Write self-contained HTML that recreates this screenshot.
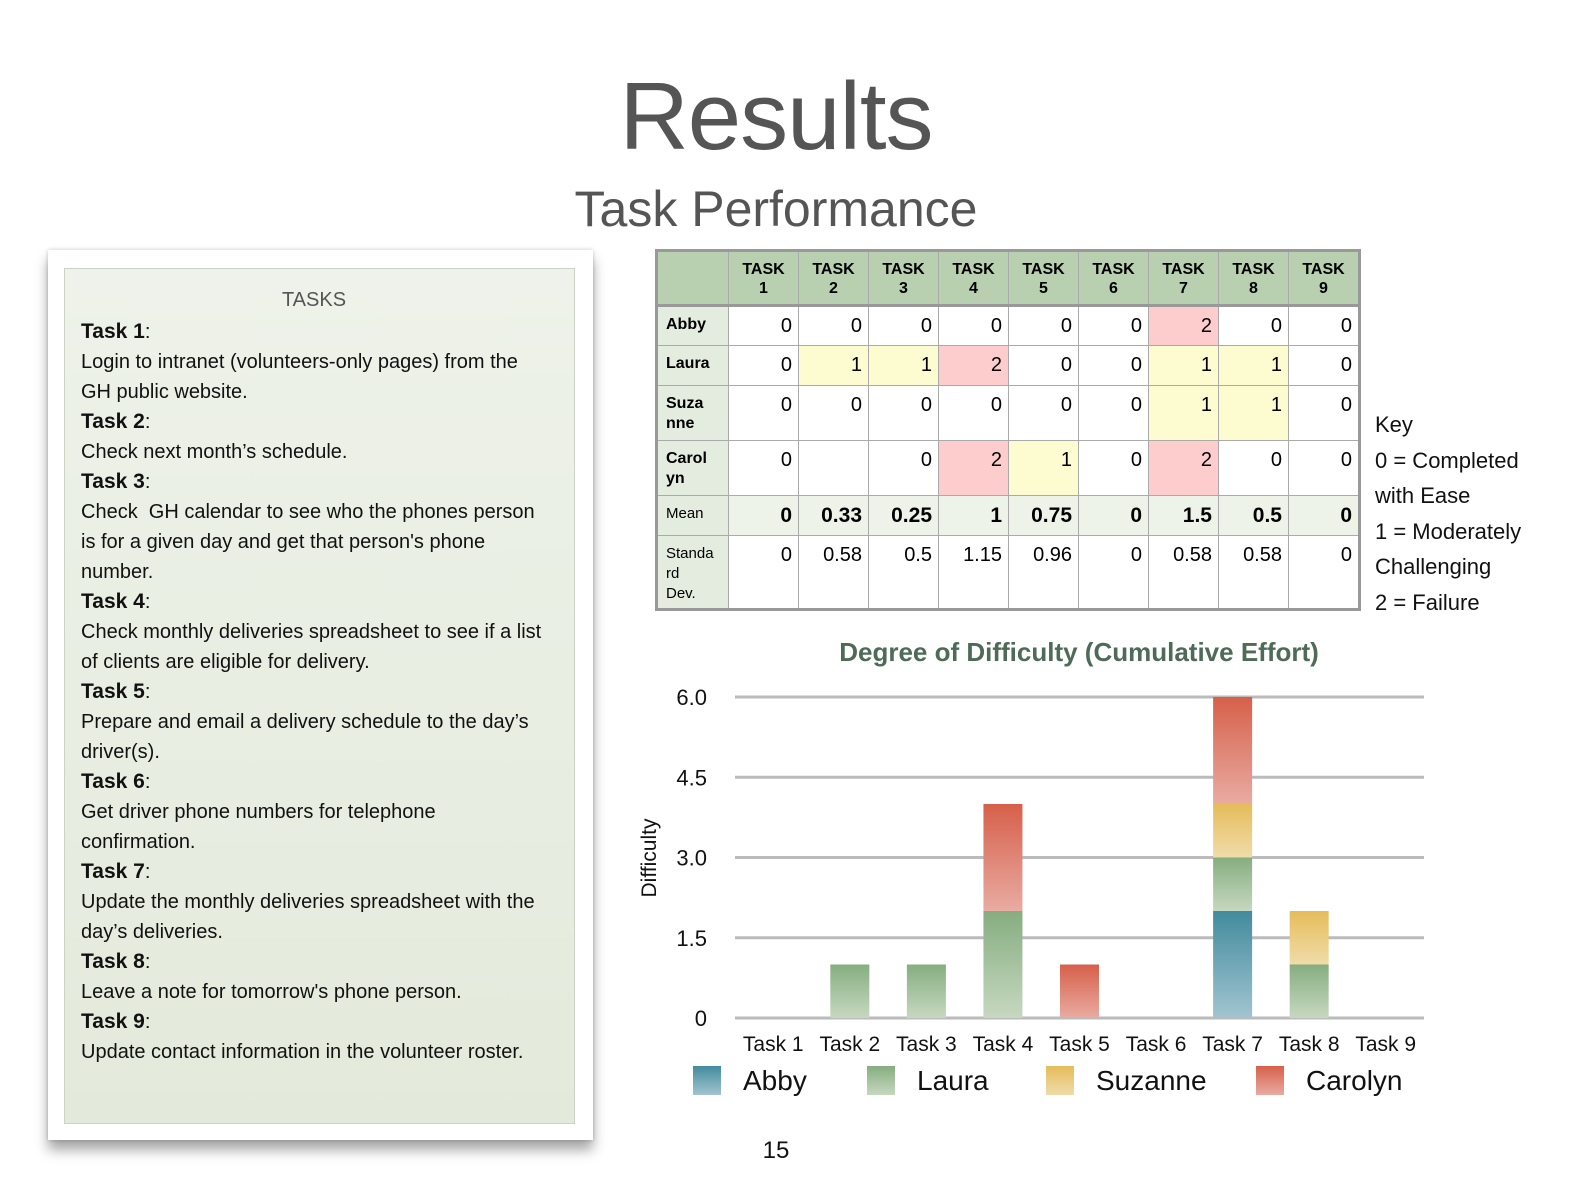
<!DOCTYPE html>
<html><head><meta charset="utf-8"><style>
body{margin:0;width:1586px;height:1194px;background:#fff;font-family:"Liberation Sans",sans-serif;position:relative;overflow:hidden}
.abs{position:absolute}
#title{left:0;width:1552px;top:62px;text-align:center;font-size:96px;color:#555;letter-spacing:-1px}
#sub{left:0;width:1552px;top:180px;text-align:center;font-size:50px;color:#555}
#card{left:48px;top:250px;width:545px;height:890px;background:#fff;box-shadow:0 10px 12px rgba(0,0,0,.35),0 0 4px rgba(0,0,0,.2)}
#inner{left:16px;top:18px;width:511px;height:856px;border:1px solid #ccd3c6;background:linear-gradient(#eef2ea,#e3eadb);box-sizing:border-box;padding:16px 27px 16px 16px;font-size:20px;color:#111;line-height:30px}
#inner b{font-size:21px}
table{border-collapse:collapse;position:absolute;left:655px;top:249px;border:3px solid #999;font-size:20px}
td{border:1px solid #aaa;text-align:right;padding:0 6px 0 0;vertical-align:top;width:63px}
td.h{background:#b8cfb0;text-align:center;font-weight:bold;font-size:16px;line-height:19px;padding:8px 0 0;vertical-align:top}
td.r{background:#e4ecdf;text-align:left;font-weight:bold;font-size:16px;line-height:20px;padding:8px 0 0 8px;width:62px}
tr.d td{padding-top:8px}
.y{background:#fdfbd0}.p{background:#fdcccc}
#key{left:1375px;top:407px;font-size:22px;line-height:35.5px;color:#111}
</style></head><body>
<div class="abs" id="title">Results</div>
<div class="abs" id="sub">Task Performance</div>
<div class="abs" id="card"><div class="abs" id="inner">
<div style="text-align:center;color:#555;font-size:20px;margin-bottom:2px">TASKS</div>
<b>Task 1</b>:<br>Login to intranet (volunteers-only pages) from the GH public website.<br>
<b>Task 2</b>:<br>Check next month’s schedule.<br>
<b>Task 3</b>:<br>Check &nbsp;GH calendar to see who the phones person is for a given day and get that person's phone number.<br>
<b>Task 4</b>:<br>Check monthly deliveries spreadsheet to see if a list of clients are eligible for delivery.<br>
<b>Task 5</b>:<br>Prepare and email a delivery schedule to the day’s driver(s).<br>
<b>Task 6</b>:<br>Get driver phone numbers for telephone confirmation.<br>
<b>Task 7</b>:<br>Update the monthly deliveries spreadsheet with the day’s deliveries.<br>
<b>Task 8</b>:<br>Leave a note for tomorrow's phone person.<br>
<b>Task 9</b>:<br>Update contact information in the volunteer roster.
</div></div>
<table>
<tr style="height:55px;border-bottom:3px solid #999"><td class="h" style="width:70px"></td><td class="h">TASK<br>1</td><td class="h">TASK<br>2</td><td class="h">TASK<br>3</td><td class="h">TASK<br>4</td><td class="h">TASK<br>5</td><td class="h">TASK<br>6</td><td class="h">TASK<br>7</td><td class="h">TASK<br>8</td><td class="h">TASK<br>9</td></tr>
<tr class="d" style="height:40px"><td class="r">Abby</td><td>0</td><td>0</td><td>0</td><td>0</td><td>0</td><td>0</td><td class="p">2</td><td>0</td><td>0</td></tr>
<tr class="d" style="height:40px"><td class="r">Laura</td><td>0</td><td class="y">1</td><td class="y">1</td><td class="p">2</td><td>0</td><td>0</td><td class="y">1</td><td class="y">1</td><td>0</td></tr>
<tr class="d" style="height:55px"><td class="r">Suza<br>nne</td><td>0</td><td>0</td><td>0</td><td>0</td><td>0</td><td>0</td><td class="y">1</td><td class="y">1</td><td>0</td></tr>
<tr class="d" style="height:55px"><td class="r">Carol<br>yn</td><td>0</td><td></td><td>0</td><td class="p">2</td><td class="y">1</td><td>0</td><td class="p">2</td><td>0</td><td>0</td></tr>
<tr class="d" style="height:40px;background:#eef3ea;font-weight:bold;font-size:21px"><td class="r" style="font-weight:normal;font-size:15px">Mean</td><td>0</td><td>0.33</td><td>0.25</td><td>1</td><td>0.75</td><td>0</td><td>1.5</td><td>0.5</td><td>0</td></tr>
<tr class="d" style="height:74px"><td class="r" style="font-weight:normal;font-size:15px">Standa<br>rd<br>Dev.</td><td>0</td><td>0.58</td><td>0.5</td><td>1.15</td><td>0.96</td><td>0</td><td>0.58</td><td>0.58</td><td>0</td></tr>
</table>
<div class="abs" id="key">Key<br>0 = Completed<br>with Ease<br>1 = Moderately<br>Challenging<br>2 = Failure</div>
<svg class="abs" style="left:0;top:0" width="1586" height="1194" id="chart">
<defs>
<linearGradient id="gA" x1="0" y1="0" x2="0" y2="1"><stop offset="0" stop-color="#428b9d"/><stop offset="1" stop-color="#a2c4d0"/></linearGradient>
<linearGradient id="gL" x1="0" y1="0" x2="0" y2="1"><stop offset="0" stop-color="#86ad80"/><stop offset="1" stop-color="#c6d8c0"/></linearGradient>
<linearGradient id="gS" x1="0" y1="0" x2="0" y2="1"><stop offset="0" stop-color="#e5bc5a"/><stop offset="1" stop-color="#f0dcaa"/></linearGradient>
<linearGradient id="gC" x1="0" y1="0" x2="0" y2="1"><stop offset="0" stop-color="#d6604a"/><stop offset="1" stop-color="#e9aba2"/></linearGradient>
</defs>
<text x="1079" y="661" text-anchor="middle" font-size="26" font-weight="bold" fill="#4e6b58">Degree of Difficulty (Cumulative Effort)</text>
<text transform="translate(656,858) rotate(-90)" text-anchor="middle" font-size="21" fill="#111">Difficulty</text>
<text x="776" y="1158" text-anchor="middle" font-size="24" fill="#111">15</text>
<g id="grid"></g><g id="bars"></g><g id="xl"></g><g id="leg"></g>
</svg>
<script>
const categories=["Task 1","Task 2","Task 3","Task 4","Task 5","Task 6","Task 7","Task 8","Task 9"];
const seriesNames=["Abby","Laura","Suzanne","Carolyn"];
const abby=[0,0,0,0,0,0,2,0,0];
const laura=[0,1,1,2,0,0,1,1,0];
const suzanne=[0,0,0,0,0,0,1,1,0];
const carolyn=[0,0,0,2,1,0,2,0,0];
const yTicks=[0,1.5,3,4.5,6];
const yTickLabels=["0","1.5","3.0","4.5","6.0"];
const NS="http://www.w3.org/2000/svg";
const x0=735,x1=1424,y0=1018,y1=697,ymax=6;
const bw=(x1-x0)/categories.length;
const ys=v=>y0-(v/ymax)*(y0-y1);
const xc=i=>x0+bw*(i+0.5);
function mk(t,a,p){const e=document.createElementNS(NS,t);for(const k in a)e.setAttribute(k,a[k]);p.appendChild(e);return e;}
const grid=document.getElementById('grid');
yTicks.forEach((v,i)=>{
 const l=mk('line',{x1:x0,x2:x1,y1:ys(v),y2:ys(v),stroke:'#bbb','stroke-width':3},grid);
 
 
 const t=mk('text',{x:707,y:ys(v)+8,'text-anchor':'end','font-size':22,fill:'#111'},grid);
 t.textContent=yTickLabels[i];
 
 
});
const series=[abby,laura,suzanne,carolyn],fills=['url(#gA)','url(#gL)','url(#gS)','url(#gC)'];
const bars=document.getElementById('bars');
categories.forEach((c,i)=>{
 let acc=0;
 series.forEach((s,k)=>{
  const v=s[i];if(!v)return;
  const r=mk('rect',{x:xc(i)-19.5,width:39,y:ys(acc+v),height:ys(acc)-ys(acc+v),fill:fills[k]},bars);
  
  
  acc+=v;
 });
 const t=mk('text',{x:xc(i),y:1051,'text-anchor':'middle','font-size':21,fill:'#111'},document.getElementById('xl'));
 t.textContent=c;
 
 
});
const leg=document.getElementById('leg');
const legX=[693,867,1046,1256];
seriesNames.forEach((n,k)=>{
 const r=mk('rect',{x:legX[k],y:1066,width:28,height:29,fill:fills[k]},leg);
 
 
 const t=mk('text',{x:legX[k]+50,y:1090,'font-size':28,fill:'#111'},leg);
 t.textContent=n;
 
 
});
</script>
</body></html>
